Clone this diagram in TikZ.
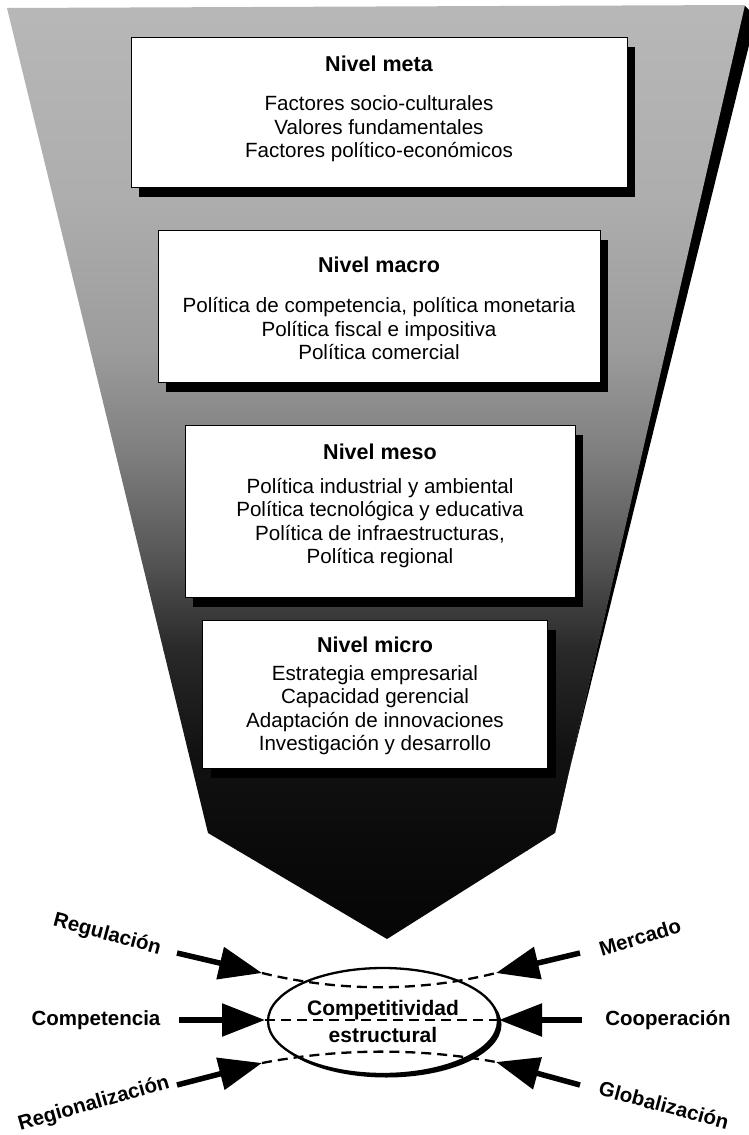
\documentclass[tikz,border=0pt]{standalone}
\usepackage{fontspec}
\setmainfont{Liberation Sans}
\usetikzlibrary{arrows.meta,shapes.geometric,shadows}
\definecolor{f0}{gray}{0.72}
\definecolor{f1}{gray}{0.68}
\definecolor{f2}{gray}{0.61}
\definecolor{f3}{gray}{0.50}
\definecolor{f4}{gray}{0.35}
\definecolor{f5}{gray}{0.16}
\definecolor{f6}{gray}{0.07}
\definecolor{f7}{gray}{0.04}
\definecolor{f8}{gray}{0.02}
\tikzset{
  levelbox/.style={draw=black, line width=1pt, fill=white, rectangle, inner sep=0pt,
    drop shadow={shadow xshift=8pt, shadow yshift=-10pt, fill=black, opacity=1}},
  ttl/.style={font=\bfseries\fontsize{21.5}{24}\selectfont, inner sep=0pt},
  body/.style={font=\fontsize{20.6}{23.5}\selectfont, align=center, inner sep=0pt},
  lbl/.style={font=\bfseries\fontsize{20.5}{24}\selectfont, inner sep=0pt},
  bigarrow/.style={line width=5.5pt, -{Triangle[length=43pt,width=32pt]}},
  dashcurve/.style={line width=2.3pt, dash pattern=on 10pt off 6pt}
}
\begin{document}
\begin{tikzpicture}[x=1pt,y=-1pt]
\useasboundingbox (0,0) rectangle (748,1135);
\fill[white] (0,0) rectangle (748,1135);

% funnel
\coordinate (ftl) at (7,8);
\coordinate (ftr) at (745,5);
\coordinate (frc) at (555,833);
\coordinate (ftip) at (387,939);
\coordinate (flc) at (208,833);
\fill[black] (744,5) -- (756,17) -- (562,800) -- (frc) -- cycle;
\begin{scope}
\clip (ftl) -- (ftr) -- (frc) -- (ftip) -- (flc) -- cycle;
\shade[top color=f0, bottom color=f1] (0,0) rectangle (748,200.5);
\shade[top color=f1, bottom color=f2] (0,200) rectangle (748,350.5);
\shade[top color=f2, bottom color=f3] (0,350) rectangle (748,450.5);
\shade[top color=f3, bottom color=f4] (0,450) rectangle (748,550.5);
\shade[top color=f4, bottom color=f5] (0,550) rectangle (748,650.5);
\shade[top color=f5, bottom color=f6] (0,650) rectangle (748,750.5);
\shade[top color=f6, bottom color=f7] (0,750) rectangle (748,850.5);
\shade[top color=f7, bottom color=f8] (0,850) rectangle (748,945);
\end{scope}

% level boxes
\node[levelbox, minimum width=496pt, minimum height=150pt] (meta) at (379,112) {};
\node[ttl] (metaT) at (379,64) {Nivel meta};
\node[body] (metaB) at (379,129) {Factores socio-culturales\\Valores fundamentales\\Factores político-económicos};

\node[levelbox, minimum width=442pt, minimum height=152pt] (macro) at (379,306) {};
\node[ttl] (macroT) at (379,265) {Nivel macro};
\node[body] (macroB) at (379,329) {Política de competencia, política monetaria\\Política fiscal e impositiva\\Política comercial};

\node[levelbox, minimum width=390pt, minimum height=172pt] (meso) at (380,511) {};
\node[ttl] (mesoT) at (380,452) {Nivel meso};
\node[body] (mesoB) at (380,523) {Política industrial y ambiental\\Política tecnológica y educativa\\Política de infraestructuras,\\Política regional};

\node[levelbox, minimum width=345pt, minimum height=148pt] (micro) at (375,694) {};
\node[ttl] (microT) at (375,645) {Nivel micro};
\node[body] (microB) at (375,710) {Estrategia empresarial\\Capacidad gerencial\\Adaptación de innovaciones\\Investigación y desarrollo};

% central ellipse
\node[ellipse, draw=black, line width=2.3pt, fill=white, minimum width=230pt, minimum height=106pt, inner sep=0pt,
  drop shadow={shadow xshift=3.5pt, shadow yshift=-3.5pt, fill=black, opacity=1}] (ce) at (383,1021) {};

% arrow coordinates
\coordinate (regS) at (177,953);  \coordinate (regE) at (262,973);
\coordinate (comS) at (179,1020); \coordinate (comE) at (265,1020);
\coordinate (rgnS) at (177,1085); \coordinate (rgnE) at (262,1063);
\coordinate (merS) at (580,953);  \coordinate (merE) at (496,973);
\coordinate (coopS) at (582,1020);\coordinate (coopE) at (499,1020);
\coordinate (gloS) at (580,1085); \coordinate (gloE) at (496,1062);

% dashed lines
\draw[dashcurve] (regE) .. controls (340,992) and (420,992) .. (merE);
\draw[dashcurve] (comE) -- (coopE);
\draw[dashcurve] (rgnE) .. controls (340,1048) and (420,1048) .. (gloE);

\node[lbl, align=center, font=\bfseries\fontsize{21}{27}\selectfont] (ceT) at (383,1021) {Competitividad\\estructural};

% arrows
\draw[bigarrow] (regS) -- (regE);
\draw[bigarrow] (comS) -- (comE);
\draw[bigarrow] (rgnS) -- (rgnE);
\draw[bigarrow] (merS) -- (merE);
\draw[bigarrow] (coopS) -- (coopE);
\draw[bigarrow] (gloS) -- (gloE);

% labels
\node[lbl, rotate=-15] (reg) at (107,935) {Regulación};
\node[lbl] (com) at (96,1020) {Competencia};
\node[lbl, rotate=16] (rgn) at (94,1104) {Regionalización};
\node[lbl, rotate=17] (mer) at (640,937) {Mercado};
\node[lbl] (coop) at (668,1020) {Cooperación};
\node[lbl, rotate=-15] (glo) at (664,1105) {Globalización};
\end{tikzpicture}
\end{document}
